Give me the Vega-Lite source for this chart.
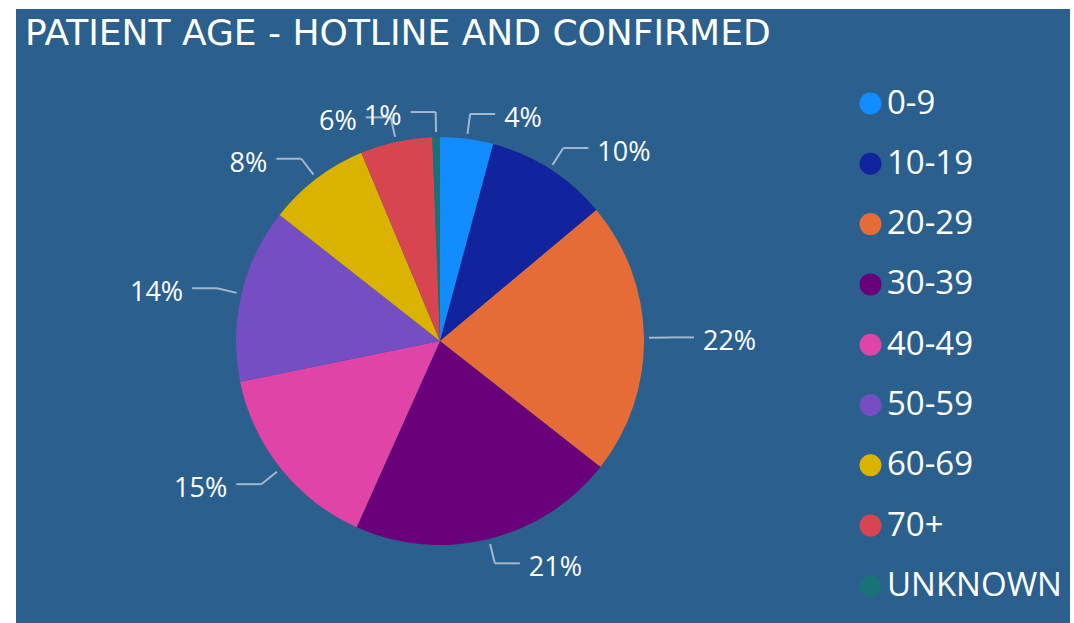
{
  "$schema": "https://vega.github.io/schema/vega-lite/v6.json",
  "width": 1054,
  "height": 614,
  "autosize": {"type": "none"},
  "padding": {"left": 16, "top": 9, "right": 4, "bottom": 0},
  "background": "#ffffff",
  "config": {"view": {"fill": "#2A5F8E", "stroke": null}},
  "title": {
    "text": "PATIENT AGE - HOTLINE AND CONFIRMED",
    "anchor": "start",
    "frame": "group",
    "orient": "top",
    "offset": -72,
    "baseline": "alphabetic",
    "dx": 9,
    "font": "DejaVu Sans",
    "fontSize": 36,
    "fontWeight": "normal",
    "color": "#ffffff"
  },
  "data": {
    "values": [
      {"Age": "0-9", "Share": 0.042},
      {"Age": "10-19", "Share": 0.097},
      {"Age": "20-29", "Share": 0.217},
      {"Age": "30-39", "Share": 0.211},
      {"Age": "40-49", "Share": 0.151},
      {"Age": "50-59", "Share": 0.138},
      {"Age": "60-69", "Share": 0.081},
      {"Age": "70+", "Share": 0.057},
      {"Age": "UNKNOWN", "Share": 0.006}
    ]
  },
  "transform": [
    {"window": [{"op": "sum", "field": "Share", "as": "Cum"}], "sort": [{"field": "Age", "order": "ascending"}], "frame": [null, 0]},
    {"calculate": "(datum.Cum - datum.Share / 2) * 2 * PI", "as": "Mid"},
    {"calculate": "sin(datum.Mid)", "as": "S"},
    {"calculate": "cos(datum.Mid)", "as": "C"},
    {"calculate": "datum.S >= 0 ? 1 : -1", "as": "Side"},
    {"calculate": "209 * datum.S", "as": "X1"},
    {"calculate": "209 * datum.C", "as": "Y1"},
    {"calculate": "229 * datum.S", "as": "X2"},
    {"calculate": "229 * datum.C", "as": "Y2"},
    {"calculate": "datum.X2 + 25 * datum.Side", "as": "X3"},
    {"calculate": "datum.X3 + 9 * datum.Side", "as": "LX"}
  ],
  "layer": [
    {
      "mark": {"type": "arc", "outerRadius": 204, "stroke": null},
      "encoding": {
        "x": {"datum": 0, "type": "quantitative", "scale": {"domain": [-424, 630], "nice": false, "zero": false}, "axis": null},
        "y": {"datum": 0, "type": "quantitative", "scale": {"domain": [-282, 332], "nice": false, "zero": false}, "axis": null},
        "theta": {"field": "Share", "type": "quantitative", "stack": true},
        "order": {"field": "Age", "type": "ordinal", "sort": "ascending"},
        "color": {
          "field": "Age",
          "type": "nominal",
          "scale": {
            "domain": ["0-9", "10-19", "20-29", "30-39", "40-49", "50-59", "60-69", "70+", "UNKNOWN"],
            "range": ["#118DFF", "#12239E", "#E66C37", "#6B007B", "#E044A7", "#744EC2", "#D9B300", "#D64550", "#197278"]
          },
          "legend": {
            "orient": "none",
            "legendX": 838,
            "legendY": 78,
            "title": null,
            "symbolType": "circle",
            "symbolSize": 484,
            "symbolStrokeWidth": 0,
            "symbolOpacity": 1,
            "labelFont": "Open Sans",
            "labelFontSize": 33,
            "labelColor": "#ffffff",
            "labelOffset": 0,
            "labelLimit": 300,
            "rowPadding": 26.3,
            "padding": 0
          }
        }
      }
    },
    {
      "mark": {"type": "rule", "color": "#A3B8CC", "strokeWidth": 2},
      "encoding": {
        "x": {"field": "X1", "type": "quantitative", "scale": {"domain": [-424, 630], "nice": false, "zero": false}, "axis": null},
        "y": {"field": "Y1", "type": "quantitative", "scale": {"domain": [-282, 332], "nice": false, "zero": false}, "axis": null},
        "x2": {"field": "X2"},
        "y2": {"field": "Y2"}
      }
    },
    {
      "mark": {"type": "rule", "color": "#A3B8CC", "strokeWidth": 2},
      "encoding": {
        "x": {"field": "X2", "type": "quantitative", "scale": {"domain": [-424, 630], "nice": false, "zero": false}, "axis": null},
        "y": {"field": "Y2", "type": "quantitative", "scale": {"domain": [-282, 332], "nice": false, "zero": false}, "axis": null},
        "x2": {"field": "X3"}
      }
    },
    {
      "transform": [{"filter": "datum.Side > 0"}],
      "mark": {"type": "text", "align": "left", "baseline": "middle", "dy": 5, "font": "Open Sans", "fontSize": 27, "color": "#ffffff"},
      "encoding": {
        "x": {"field": "LX", "type": "quantitative", "scale": {"domain": [-424, 630], "nice": false, "zero": false}, "axis": null},
        "y": {"field": "Y2", "type": "quantitative", "scale": {"domain": [-282, 332], "nice": false, "zero": false}, "axis": null},
        "text": {"field": "Share", "type": "quantitative", "format": ".0%"}
      }
    },
    {
      "transform": [{"filter": "datum.Side < 0"}],
      "mark": {"type": "text", "align": "right", "baseline": "middle", "dy": 5, "font": "Open Sans", "fontSize": 27, "color": "#ffffff"},
      "encoding": {
        "x": {"field": "LX", "type": "quantitative", "scale": {"domain": [-424, 630], "nice": false, "zero": false}, "axis": null},
        "y": {"field": "Y2", "type": "quantitative", "scale": {"domain": [-282, 332], "nice": false, "zero": false}, "axis": null},
        "text": {"field": "Share", "type": "quantitative", "format": ".0%"}
      }
    }
  ]
}
